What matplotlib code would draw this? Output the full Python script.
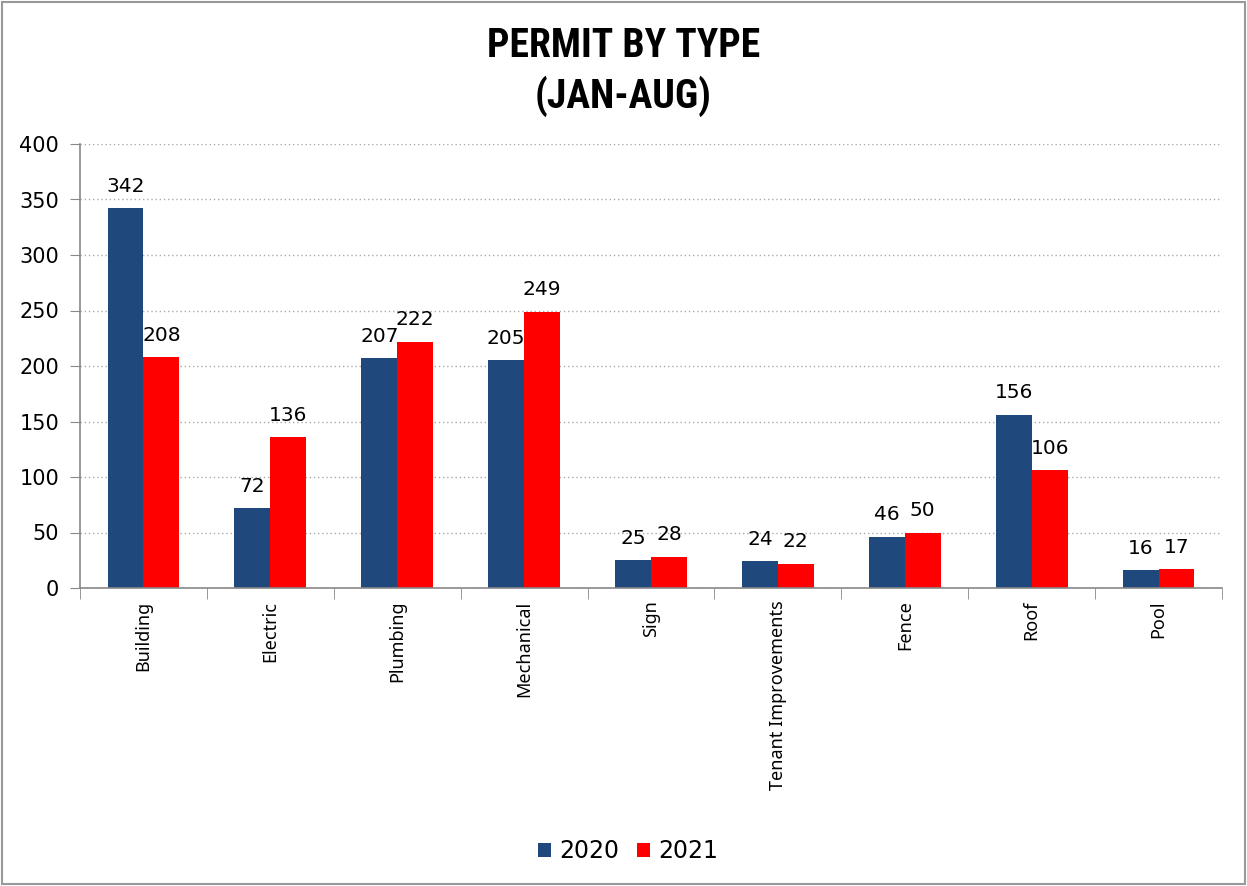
import matplotlib
matplotlib.use("Agg")
import matplotlib.pyplot as plt
import numpy as np
from matplotlib.patches import Rectangle

categories = ["Building", "Electric", "Plumbing", "Mechanical", "Sign",
              "Tenant Improvements", "Fence", "Roof", "Pool"]
values_2020 = [342, 72, 207, 205, 25, 24, 46, 156, 16]
values_2021 = [208, 136, 222, 249, 28, 22, 50, 106, 17]
series_labels = ["2020", "2021"]
yticks = [0, 50, 100, 150, 200, 250, 300, 350, 400]

c2020 = "#1F497D"
c2021 = "#FF0000"

fig = plt.figure(figsize=(12.47, 8.86), dpi=100)
ax = fig.add_axes([80/1247, 1-588/886, (1222-80)/1247, (588-144)/886])

x = np.arange(len(categories))
w = 0.283
b1 = ax.bar(x - w/2, values_2020, w, color=c2020, label=series_labels[0])
b2 = ax.bar(x + w/2, values_2021, w, color=c2021, label=series_labels[1])

for bars, vals in ((b1, values_2020), (b2, values_2021)):
    for r, v in zip(bars, vals):
        ax.annotate(str(v), (r.get_x() + r.get_width()/2, v), xytext=(0, 9),
                    textcoords="offset points", ha="center", va="bottom",
                    fontsize=14.5, family="DejaVu Sans")

ax.set_xlim(-0.5, len(categories) - 0.5)
ax.set_ylim(0, 400)
ax.set_yticks(yticks)
ax.set_yticklabels([str(t) for t in yticks], fontsize=15)
ax.set_xticks(x)
ax.set_xticklabels(categories, rotation=90, fontsize=13, family=["Noto Sans", "DejaVu Sans"])
ax.tick_params(axis="x", length=0, pad=9)
ax.set_xticks(np.arange(-0.5, len(categories)), minor=True)
ax.tick_params(axis="x", which="minor", length=8, color="#888888", direction="out")
ax.tick_params(axis="y", length=7, color="#888888", direction="out", pad=8)

ax.yaxis.grid(True, linestyle=(0, (1, 2)), color="#AAAAAA", linewidth=1)
ax.set_axisbelow(True)
for s in ("top", "right"):
    ax.spines[s].set_visible(False)
for s in ("left", "bottom"):
    ax.spines[s].set_color("#888888")
    ax.spines[s].set_linewidth(1.2)

title_fam = ["Roboto Condensed", "Roboto", "DejaVu Sans"]
fig.text(0.5, 1 - 46/886, "PERMIT BY TYPE", ha="center", va="center",
         fontsize=28.5, fontweight="bold", family=title_fam)
fig.text(0.5, 1 - 96/886, "(JAN-AUG)", ha="center", va="center",
         fontsize=28.5, fontweight="bold", family=title_fam)

leg = fig.legend(handles=[b1, b2], labels=series_labels, loc="center",
                 bbox_to_anchor=(0.504, 1 - 851/886), ncol=2, frameon=False,
                 fontsize=17, handlelength=0.55, handleheight=0.55,
                 handletextpad=0.35, columnspacing=0.75)

fig.patches.append(Rectangle((0.002, 0.002), 0.996, 0.996, transform=fig.transFigure,
                             fill=False, edgecolor="#999999", linewidth=1.5))

fig.savefig("out.png", dpi=100)
